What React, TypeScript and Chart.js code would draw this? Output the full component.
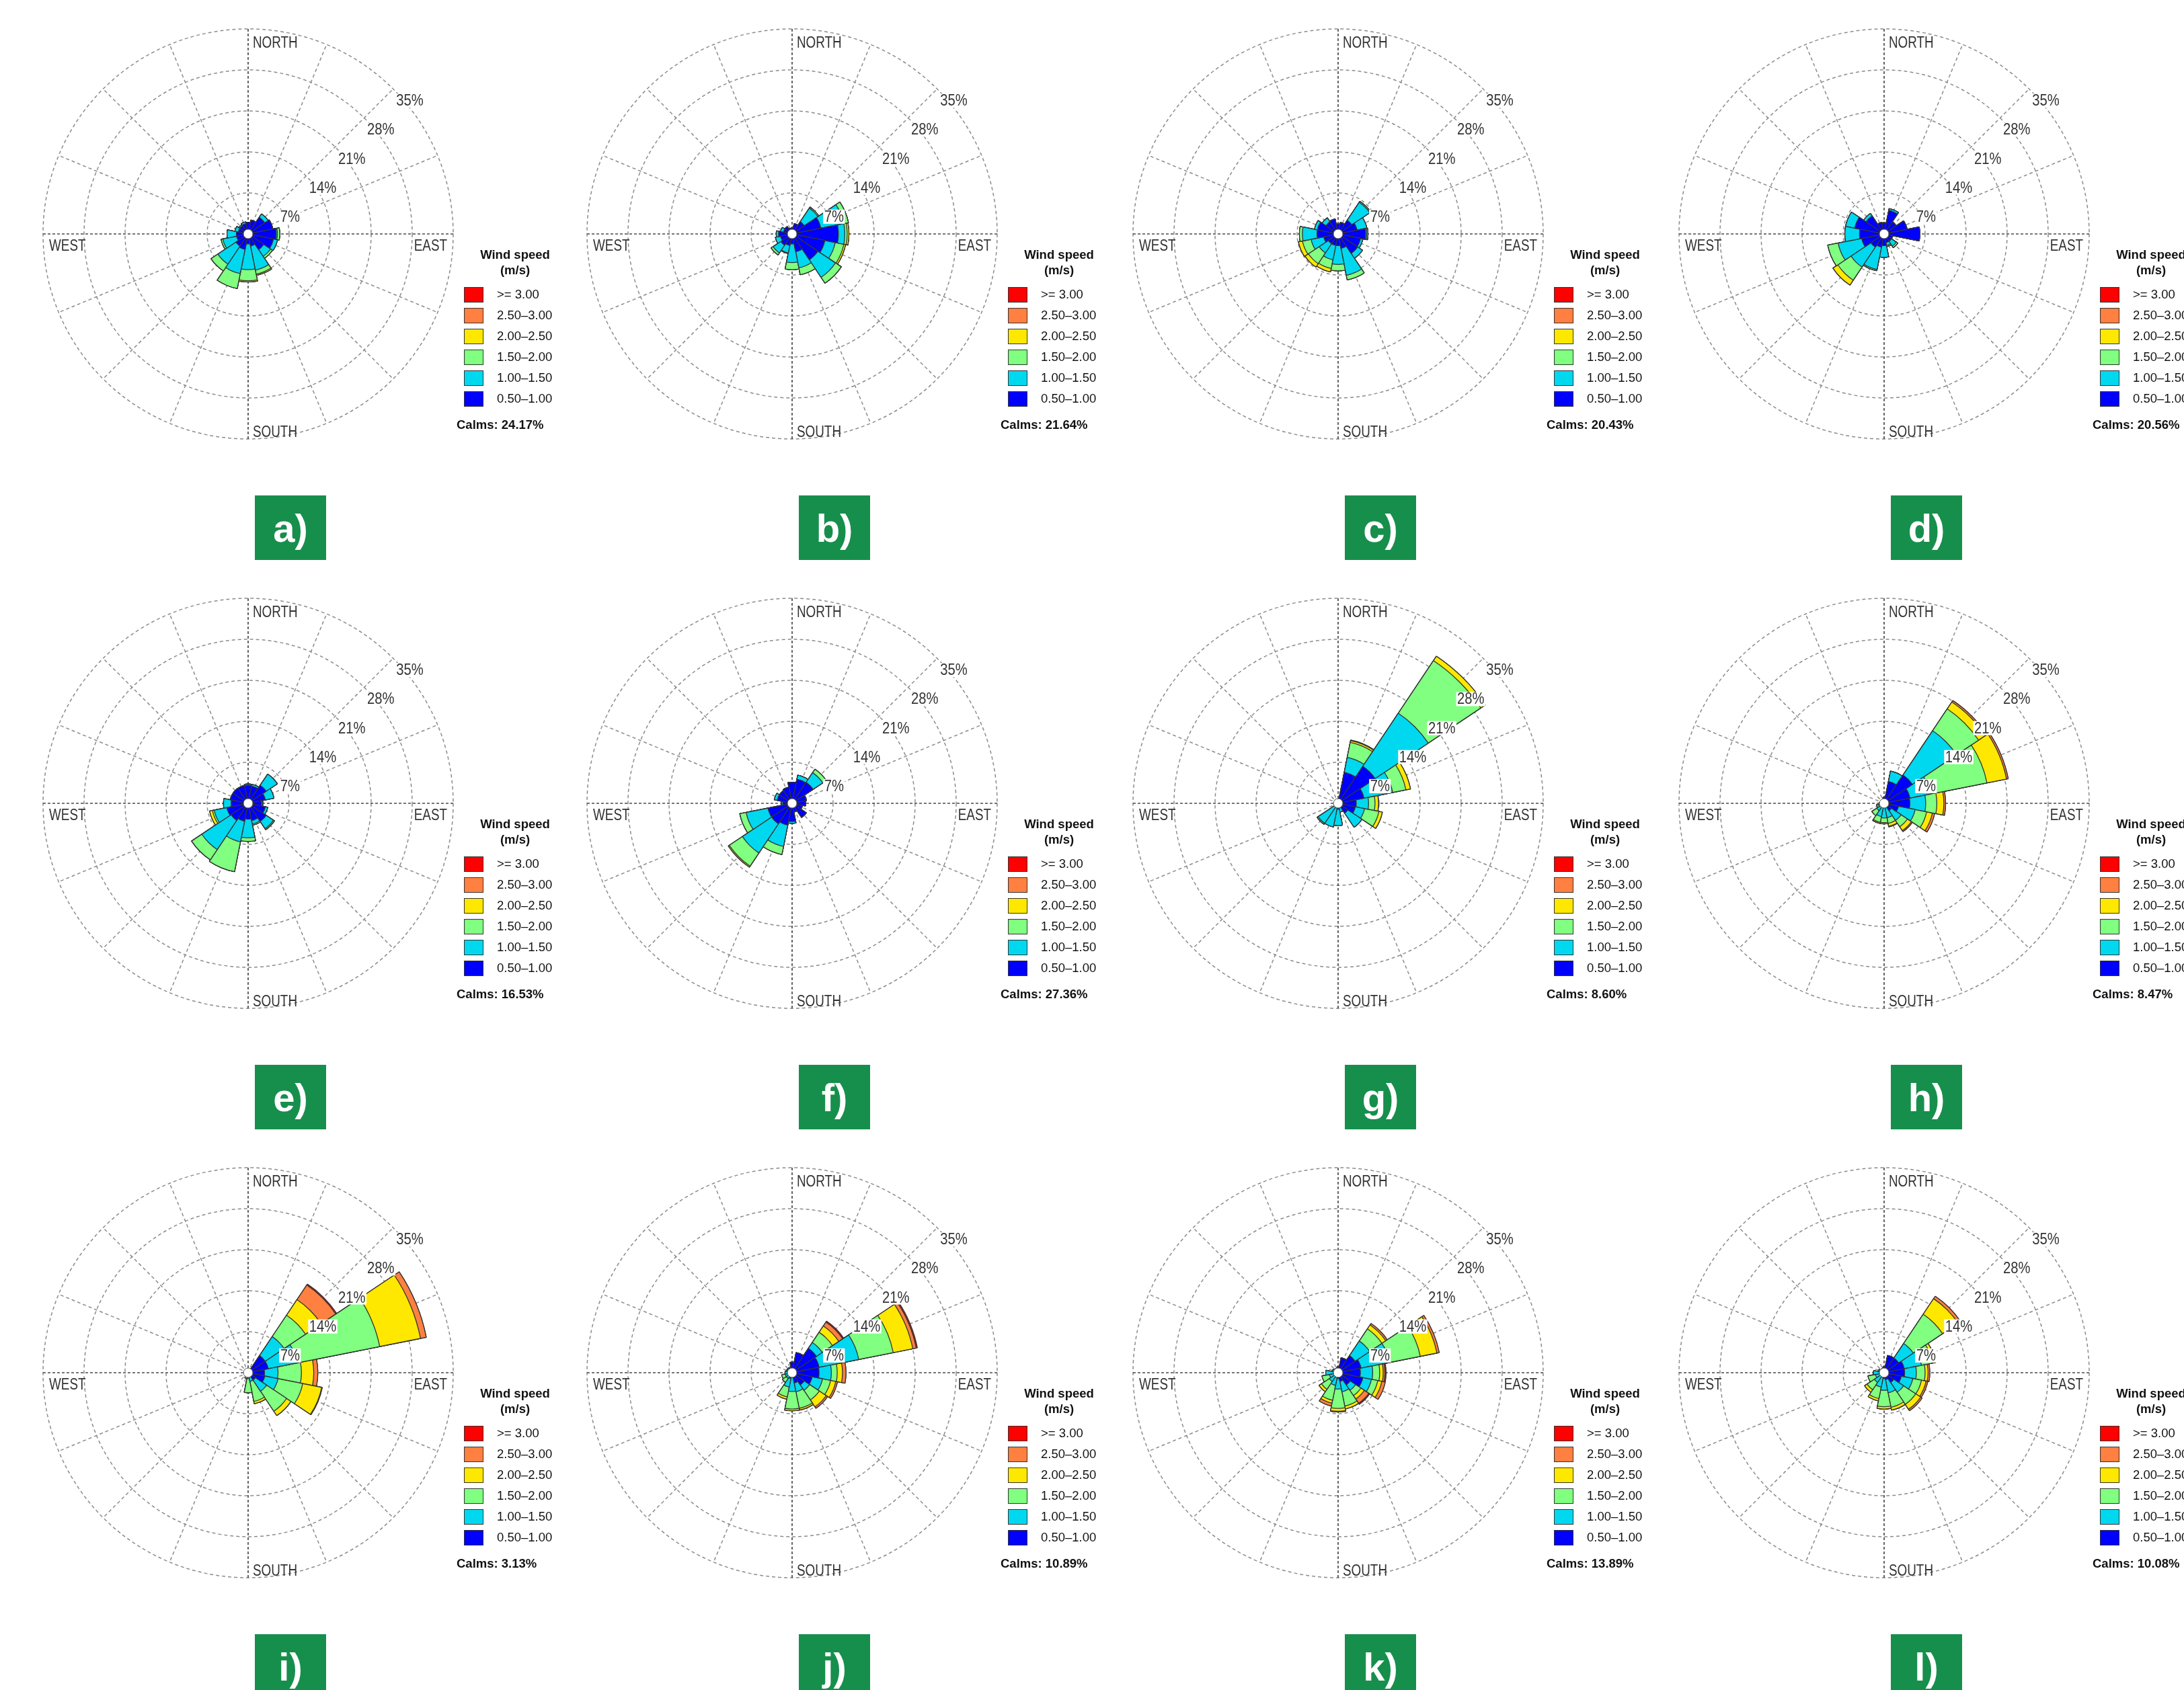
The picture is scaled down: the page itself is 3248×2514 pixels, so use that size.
import React, { useEffect, useRef } from "react";
import { Chart, registerables } from "chart.js";
Chart.register(...registerables);

// ---------- data ----------
const DIRECTIONS = ["N", "NNE", "NE", "ENE", "E", "ESE", "SE", "SSE", "S", "SSW", "SW", "WSW", "W", "WNW", "NW", "NNW"];
// speed classes (m/s), lowest first
const SPEED_CLASSES = ["0.50–1.00", "1.00–1.50", "1.50–2.00", "2.00–2.50", "2.50–3.00", ">= 3.00"];
const CLASS_COLORS = ["#0000ff", "#00d8f0", "#80ff80", "#ffe800", "#ff8040", "#ff0000"];
const RING_TICKS = [7, 14, 21, 28, 35];
const PANEL_LABELS = ["a)", "b)", "c)", "d)", "e)", "f)", "g)", "h)", "i)", "j)", "k)", "l)"];
const CALMS = [24.17, 21.64, 20.43, 20.56, 16.53, 27.36, 8.6, 8.47, 3.13, 10.89, 13.89, 10.08];

// frequency (%) per direction (N..NNW), per speed class (0.5-1, 1-1.5, 1.5-2, 2-2.5, 2.5-3, >=3)
const ROSE_A = [[2.0], [2.4], [3.4, 0.7], [4.3], [4.8, 0.2, 0.4], [4.4, 0.7], [3.2, 1.4, 0.4], [2.1, 4.2, 0.7, 0.2], [1.7, 4.4, 1.9, 0.2], [2.7, 4.2, 2.6], [2.5, 3.7, 1.4], [2.0, 2.4, 0.3], [2.0, 1.6], [1.7, 0.6], [1.7, 0.2], [1.8, 0.3]];
const ROSE_B = [[1.0], [1.8], [2.5, 2.8, 0.2], [5.0, 4.0, 0.8], [7.9, 1.1, 0.4, 0.3], [5.7, 1.8, 1.5, 0.3], [5.3, 3.6, 1.2], [3.1, 2.8, 1.2], [1.7, 3.2, 1.2], [2.0, 1.3, 0.1], [2.3, 1.6, 0.4], [2.0, 0.9], [2.3, 0.4], [1.5, 0.5], [1.5], [1.0]];
const ROSE_C = [[1.7], [2.0], [2.8, 3.7, 0.2], [3.3, 1.7], [4.7, 0.2, 0.2], [3.9, 0.4], [4.0, 1.0], [2.5, 4.7, 0.8], [2.0, 3.2, 1.1], [2.0, 2.5, 1.5, 0.6], [2.0, 1.9, 2.2, 0.7], [2.5, 2.2, 1.5, 0.7], [3.6, 2.5, 0.5], [3.6, 0.5], [2.5, 0.8], [2.6]];
const ROSE_D = [[1.9], [4.1, 0.3], [2.5], [4.0], [6.1], [1.5], [1.5, 1.0, 0.3], [1.5, 0.5, 0.2], [2.0, 2.0], [2.3, 3.9, 0.2], [2.7, 4.1, 2.7, 1.0], [3.9, 4.1, 1.8], [4.2, 2.5], [5.1, 1.6], [3.7, 0.5], [2.0]];
const ROSE_E = [[3.1, 0.2], [3.0, 0.3], [3.7, 2.3], [3.0, 1.5], [2.3, 0.2], [3.0, 0.4], [3.7, 1.5, 0.2], [3.0, 0.6, 0.2], [2.7, 3.2, 0.6], [3.1, 3.6, 5.2], [3.5, 6.0, 2.1], [3.7, 2.2, 0.3, 0.5], [2.9, 1.3], [3.1], [3.1], [3.1]];
const ROSE_F = [[3.6], [4.2, 0.7], [4.3, 2.0, 0.7], [2.5], [2.3], [1.8], [2.9], [1.5], [3.1, 0.3], [3.8, 3.7, 1.4], [4.2, 6.0, 2.7, 0.2], [4.2, 3.8, 1.1], [1.6, 0.2], [2.6, 0.5], [2.6], [2.8]];
const ROSE_G = [[0.6], [5.4, 2.6, 2.6, 0.3, 0.1], [7.6, 10.9, 10.8, 0.9], [4.5, 5.0, 2.3, 0.8], [3.1, 2.1, 1.1, 0.6], [3.0, 1.6, 2.5, 0.6], [2.0, 2.9], [0.8, 0.7], [1.0, 2.8], [0.8, 3.3], [0.5, 3.6, 0.2], [0.5], [0.4], [0.4], [0.4], [0.5]];
const ROSE_H = [[1.0], [3.8, 1.8], [5.8, 9.1, 4.5, 1.4, 0.3], [4.5, 3.6, 9.8, 3.4, 0.3], [4.4, 2.7, 1.9, 1.2, 0.3], [2.5, 2.9, 2.0, 1.0, 0.4], [1.5, 2.0, 1.3, 0.8, 0.2], [0.8, 1.7, 1.0, 0.5, 0.1], [0.5, 2.0, 0.8, 0.2], [0.5, 1.8, 1.0, 0.2], [0.4, 1.1, 1.0], [0.4, 0.6, 0.3], [0.4, 0.4], [0.6], [0.6], [0.7]];
const ROSE_I = [[0.5], [0.5, 0.2], [3.5, 3.9, 4.4, 3.2, 3.0, 0.2], [3.5, 5.1, 14.3, 7.1, 1.0], [2.8, 2.3, 4.0, 2.1, 0.7], [2.9, 2.3, 4.3, 3.3, 0.1], [1.5, 2.3, 4.1, 0.9], [0.5, 1.0, 3.5, 0.4], [0.3, 0.7, 2.4], [0.3, 0.3, 0.4], [0.3, 0.3], [0.4], [0.4], [0.3], [0.3], [0.4]];
const ROSE_J = [[1.8], [3.5], [5.0, 1.2, 2.1, 1.3, 0.8, 0.2], [4.7, 6.9, 6.0, 3.4, 0.6, 0.2], [4.6, 2.1, 1.0, 0.9, 0.6], [3.5, 1.8, 1.4, 0.9, 0.3], [2.5, 1.1, 2.0, 1.4, 0.3], [1.8, 1.5, 2.9, 0.3], [0.8, 2.4, 3.0, 0.3], [1.0, 1.5, 1.7, 0.4], [0.5, 0.7, 0.8], [0.5, 0.7, 0.6], [0.6, 0.6], [0.6, 0.4], [0.8, 0.2], [0.9]];
const ROSE_K = [[1.0], [2.6], [3.5, 3.0, 2.5, 0.8, 0.3], [4.0, 5.0, 5.3, 2.9, 0.4], [3.8, 2.1, 1.2, 0.6, 0.3, 0.2], [4.3, 1.5, 1.1, 0.7, 0.6], [2.5, 1.1, 1.1, 0.7, 0.9, 0.2], [1.5, 1.8, 2.5, 0.5], [1.0, 1.8, 3.3, 0.5, 0.1], [0.8, 1.4, 2.6, 0.5, 0.5], [0.6, 1.2, 1.6, 0.5], [0.6, 0.9, 1.3], [0.6, 1.5], [0.6, 0.4], [0.8], [0.8]];
const ROSE_L = [[1.0], [3.0], [3.0, 3.0, 6.0, 3.2, 0.5], [3.5, 3.0, 2.0, 0.5], [3.5, 2.0, 1.5, 0.5, 0.3], [3.0, 2.0, 1.5, 0.8, 0.3], [2.0, 2.0, 2.5, 1.0, 0.3], [1.2, 2.3, 2.5, 0.5], [1.0, 2.0, 2.8, 0.4], [0.8, 1.7, 2.0, 0.4], [0.6, 1.4, 1.5, 0.5], [0.5, 1.0, 1.3], [0.5, 1.3], [0.5, 0.5], [0.6], [0.8]];

const ROSES = [ROSE_A, ROSE_B, ROSE_C, ROSE_D, ROSE_E, ROSE_F, ROSE_G, ROSE_H, ROSE_I, ROSE_J, ROSE_K, ROSE_L];

// ---------- layout ----------
const COL_X = [369, 1178, 1990, 2802];
const ROW_Y = [348, 1195, 2042];
const CANVAS = 660;
const PAD = 25;
const HALF = CANVAS / 2;
const FONT = "'Liberation Sans', Arial, Helvetica, sans-serif";
const TEXT = "#333333";

function drawNarrow(ctx: CanvasRenderingContext2D, text: string, x: number, y: number, align: CanvasTextAlign, sx: number) {
  ctx.save();
  ctx.translate(x, y);
  ctx.scale(sx, 1);
  ctx.textAlign = align;
  ctx.textBaseline = "alphabetic";
  ctx.fillText(text, 0, 0);
  ctx.restore();
}

const roseDecor = {
  id: "roseDecor",
  beforeDatasetsDraw(chart: any) {
    const s = chart.scales.r;
    const ctx: CanvasRenderingContext2D = chart.ctx;
    const cx = s.xCenter, cy = s.yCenter, R = s.drawingArea;
    ctx.save();
    for (let k = 0; k < 16; k++) {
      const a = (k * Math.PI) / 8;
      const major = k % 4 === 0;
      ctx.beginPath();
      ctx.setLineDash(major ? [4, 3] : [5, 4]);
      ctx.strokeStyle = major ? "#4a4a4a" : "#8c8c8c";
      ctx.lineWidth = major ? 1.7 : 1.5;
      ctx.moveTo(cx, cy);
      ctx.lineTo(cx + R * Math.sin(a), cy - R * Math.cos(a));
      ctx.stroke();
    }
    ctx.restore();
  },
  afterDatasetsDraw(chart: any) {
    const s = chart.scales.r;
    const ctx: CanvasRenderingContext2D = chart.ctx;
    const cx = s.xCenter, cy = s.yCenter, R = s.drawingArea;
    ctx.save();
    // calm circle
    ctx.beginPath();
    ctx.arc(cx, cy, 7, 0, Math.PI * 2);
    ctx.fillStyle = "#ffffff";
    ctx.fill();
    ctx.lineWidth = 1;
    ctx.strokeStyle = "#555";
    ctx.stroke();
    // ring labels
    ctx.font = `23px ${FONT}`;
    const sxr = 0.88;
    for (const t of RING_TICKS) {
      const d = s.getDistanceFromCenterForValue(t);
      const px = cx + d * Math.SQRT1_2;
      const py = cy - d * Math.SQRT1_2;
      const label = `${t}%`;
      const w = ctx.measureText(label).width * sxr;
      ctx.fillStyle = "#ffffff";
      ctx.fillRect(px + 3, py + 7, w + 3, 21);
      ctx.fillStyle = TEXT;
      drawNarrow(ctx, label, px + 4.5, py + 25, "left", sxr);
    }
    // compass labels
    ctx.font = `23px ${FONT}`;
    ctx.fillStyle = TEXT;
    const sxc = 0.82;
    drawNarrow(ctx, "NORTH", cx + 7, cy - R + 28, "left", sxc);
    drawNarrow(ctx, "SOUTH", cx + 7, cy + R - 3, "left", sxc);
    drawNarrow(ctx, "EAST", cx + R - 9, cy + 25, "right", sxc);
    drawNarrow(ctx, "WEST", cx - R + 9, cy + 25, "left", sxc);
    ctx.restore();
  },
};

function Rose({ freq, cx, cy }: { freq: number[][]; cx: number; cy: number }) {
  const ref = useRef<HTMLCanvasElement | null>(null);
  useEffect(() => {
    if (!ref.current) return;
    const rows = freq.map((r) => [...r, 0, 0, 0, 0, 0, 0].slice(0, 6));
    const datasets = SPEED_CLASSES.map((label, k) => ({
      label,
      data: rows.map((row) => row.slice(0, k + 1).reduce((a, b) => a + b, 0)),
      backgroundColor: CLASS_COLORS[k],
      borderColor: "#333333",
      borderWidth: 1.3,
    }));
    const chart = new Chart(ref.current, {
      type: "polarArea",
      data: { labels: DIRECTIONS, datasets },
      options: {
        responsive: false,
        animation: false,
        devicePixelRatio: 1,
        layout: { padding: PAD },
        plugins: { legend: { display: false }, tooltip: { enabled: false } },
        scales: {
          r: {
            min: 0,
            max: 35,
            startAngle: -11.25,
            ticks: { stepSize: 7, display: false },
            grid: { color: "#8c8c8c", lineWidth: 1.5, circular: true },
            border: { dash: [5, 4] },
            angleLines: { display: false },
            pointLabels: { display: false },
          },
        },
      } as any,
      plugins: [roseDecor],
    });
    return () => chart.destroy();
  }, [freq]);
  return (
    <canvas
      ref={ref}
      width={CANVAS}
      height={CANVAS}
      style={{ position: "absolute", left: cx - HALF, top: cy - HALF, width: CANVAS, height: CANVAS }}
    />
  );
}

function Legend({ cx, cy, calms }: { cx: number; cy: number; calms: number }) {
  const order = [5, 4, 3, 2, 1, 0];
  return (
    <>
      <div
        style={{
          position: "absolute",
          left: cx + 297,
          width: 200,
          top: cy + 19,
          textAlign: "center",
          font: `bold 18.5px ${FONT}`,
          lineHeight: "23px",
          color: "#111",
          whiteSpace: "nowrap",
        }}
      >
        Wind speed
        <br />
        (m/s)
      </div>
      {order.map((k, i) => (
        <React.Fragment key={k}>
          <div
            style={{
              position: "absolute",
              left: cx + 321,
              top: cy + 79 + 31 * i,
              width: 29,
              height: 23,
              boxSizing: "border-box",
              border: "1.5px solid #333",
              background: CLASS_COLORS[k],
            }}
          />
          <div
            style={{
              position: "absolute",
              left: cx + 370,
              top: cy + 79 + 31 * i,
              height: 23,
              lineHeight: "23px",
              font: `18.5px ${FONT}`,
              color: "#111",
              whiteSpace: "nowrap",
            }}
          >
            {SPEED_CLASSES[k]}
          </div>
        </React.Fragment>
      ))}
      <div
        style={{
          position: "absolute",
          left: cx + 310,
          top: cy + 273,
          lineHeight: "23px",
          font: `bold 18.5px ${FONT}`,
          color: "#111",
          whiteSpace: "nowrap",
        }}
      >
        {`Calms: ${calms.toFixed(2)}%`}
      </div>
    </>
  );
}

function PanelLabel({ cx, cy, text }: { cx: number; cy: number; text: string }) {
  return (
    <div
      style={{
        position: "absolute",
        left: cx + 10,
        top: cy + 389,
        width: 106,
        height: 96,
        background: "#178f4c",
        color: "#ffffff",
        font: `bold 58px ${FONT}`,
        display: "flex",
        alignItems: "center",
        justifyContent: "center",
      }}
    >
      {text}
    </div>
  );
}

export default function App() {
  return (
    <div
      style={{
        position: "fixed",
        left: 0,
        top: 0,
        width: 3248,
        height: 2514,
        overflow: "hidden",
        background: "#ffffff",
      }}
    >
      {ROSES.map((freq, idx) => {
        const cx = COL_X[idx % 4];
        const cy = ROW_Y[Math.floor(idx / 4)];
        return (
          <React.Fragment key={idx}>
            <Rose freq={freq} cx={cx} cy={cy} />
            <Legend cx={cx} cy={cy} calms={CALMS[idx]} />
            <PanelLabel cx={cx} cy={cy} text={PANEL_LABELS[idx]} />
          </React.Fragment>
        );
      })}
    </div>
  );
}
